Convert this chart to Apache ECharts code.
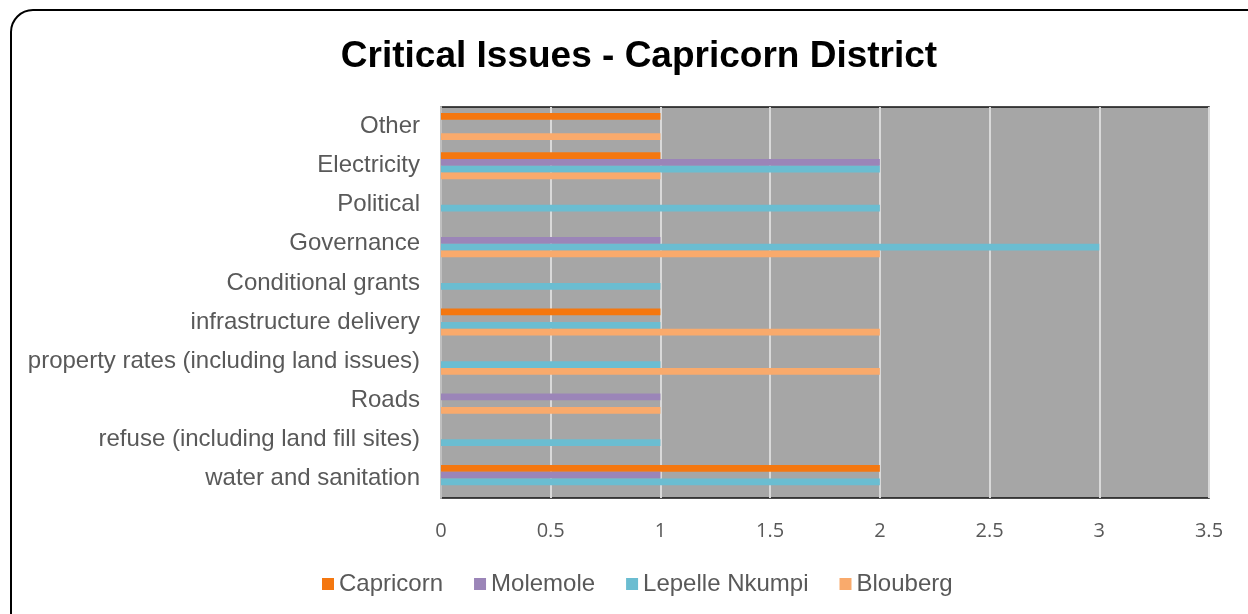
<!DOCTYPE html>
<html>
<head>
<meta charset="utf-8">
<title>Critical Issues - Capricorn District</title>
<script src="https://cdn.jsdelivr.net/npm/echarts@6/dist/echarts.min.js"></script>
<style>
  html, body { margin: 0; padding: 0; background: #ffffff; }
  #chart { width: 1248px; height: 614px; }
</style>
</head>
<body>
<div id="chart"></div>
<script>
// Categories in axis order (bottom to top)
const categories = [
  'water and sanitation',
  'refuse (including land fill sites)',
  'Roads',
  'property rates (including land issues)',
  'infrastructure delivery',
  'Conditional grants',
  'Governance',
  'Political',
  'Electricity',
  'Other'
];

const seriesNames = ['Capricorn', 'Molemole', 'Lepelle Nkumpi', 'Blouberg'];

// Number of times each issue was raised, per municipality
const capricorn     = [2, 0, 0, 0, 1, 0, 0, 0, 1, 1];
const molemole      = [1, 0, 1, 0, 0, 0, 1, 0, 2, 0];
const lepelleNkumpi = [2, 1, 0, 1, 1, 1, 3, 2, 2, 0];
const blouberg      = [0, 0, 1, 2, 2, 0, 2, 0, 1, 1];

const xTicks = [0, 0.5, 1, 1.5, 2, 2.5, 3, 3.5];

const colors = ['#F47710', '#9B85B8', '#6BBDD1', '#F9AA6C'];
const values = [capricorn, molemole, lepelleNkumpi, blouberg];

const chart = echarts.init(document.getElementById('chart'), null, { renderer: 'canvas' });

const labelFont = '"Liberation Sans", Arial, sans-serif';

chart.setOption({
  animation: false,
  backgroundColor: '#ffffff',
  title: {
    text: 'Critical Issues - Capricorn District',
    left: 634,
    top: 33,
    textAlign: 'center',
    textStyle: {
      fontFamily: labelFont,
      fontWeight: 'bold',
      fontSize: 37,
      color: '#000000'
    }
  },
  legend: {
    data: seriesNames,
    left: 317,
    top: 567,
    itemWidth: 12,
    itemHeight: 12,
    itemGap: 31,
    icon: 'rect',
    textStyle: {
      fontFamily: labelFont,
      fontSize: 24,
      color: '#595959'
    }
  },
  grid: {
    left: 441,
    top: 107,
    width: 768,
    height: 391,
    show: true,
    backgroundColor: '#A6A6A6',
    borderColor: '#111111',
    borderWidth: 1.5,
    containLabel: false
  },
  xAxis: {
    type: 'value',
    min: 0,
    max: 3.5,
    interval: 0.5,
    axisLine: { show: false },
    axisTick: { show: false },
    splitLine: { show: true, lineStyle: { color: '#D9D9D9', width: 2 } },
    axisLabel: {
      margin: 23,
      fontFamily: '"Open Sans", "Noto Sans", sans-serif',
      fontSize: 20,
      color: '#595959',
      formatter: function (v) { return xTicks.indexOf(v) >= 0 ? String(v) : ''; }
    }
  },
  yAxis: {
    type: 'category',
    data: categories,
    axisLine: { show: true, lineStyle: { color: '#BFBFBF', width: 2 } },
    axisTick: { show: false },
    splitLine: { show: false },
    axisLabel: {
      margin: 21,
      fontFamily: labelFont,
      fontSize: 24,
      color: '#595959'
    }
  },
  series: seriesNames.map(function (name, i) {
    return {
      name: name,
      type: 'bar',
      data: values[i],
      barGap: '0%',
      barCategoryGap: '31%',
      itemStyle: { color: colors[i] },
      emphasis: { disabled: true }
    };
  }),
  graphic: [{
    type: 'rect',
    shape: { x: 11, y: 10, width: 1270, height: 640, r: 22 },
    style: { fill: null, stroke: '#000000', lineWidth: 2 },
    silent: true,
    z: 100
  }]
});
</script>
</body>
</html>
